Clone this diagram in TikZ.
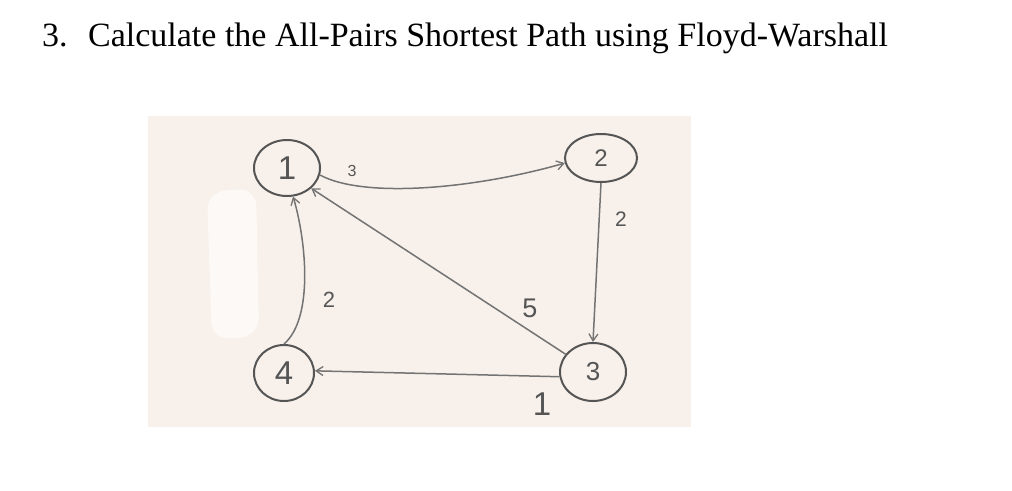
\documentclass[tikz,border=0pt]{standalone}
\usepackage{fontspec}
\setmainfont{Liberation Serif}
\newfontfamily\handfont{Liberation Sans}
\usetikzlibrary{shapes.geometric,arrows.meta}
\definecolor{photobg}{RGB}{248,241,235}
\definecolor{ink}{RGB}{85,85,85}
\definecolor{inkline}{RGB}{115,115,115}
\tikzset{
  vertex/.style={draw=ink, line width=2pt, ellipse, inner sep=0pt, text=ink, font=\handfont},
  edge/.style={draw=inkline, line width=1.5pt, -{Straight Barb[length=7pt,width=9pt,line width=1.3pt]}},
  wlabel/.style={text=ink, font=\handfont, inner sep=0pt}
}
\begin{document}
\begin{tikzpicture}[x=1pt,y=-1pt]
\useasboundingbox (0,0) rectangle (1012,490);
\fill[white] (0,0) rectangle (1012,490);
% title
\node[anchor=base west, inner sep=0pt, font=\fontsize{34}{40}\selectfont] (title) at (42,46)
  {3.\hspace{0.6em}Calculate the All-Pairs Shortest Path using Floyd-Warshall};
% photo background
\fill[photobg] (148,116) rectangle (691,427);
\fill[white!55!photobg, rounded corners=18pt] (207,192) -- (256,188) -- (259,336) -- (212,340) -- cycle;
% nodes
\node[vertex, minimum width=66pt, minimum height=56pt, font=\handfont\fontsize{33}{33}\selectfont] (n1) at (287,168) {1};
\node[vertex, minimum width=72pt, minimum height=48pt, font=\handfont\fontsize{24}{24}\selectfont] (n2) at (601,158) {2};
\node[vertex, minimum width=66pt, minimum height=58pt, font=\handfont\fontsize{26}{26}\selectfont] (n3) at (593,372) {3};
\node[vertex, minimum width=60pt, minimum height=56pt, font=\handfont\fontsize{33}{33}\selectfont] (n4) at (284,373) {4};
% edges
\draw[edge] (n1.-12) .. controls (362,198) and (470,190) .. (n2.188);
\draw[edge] (n2.south) -- (n3.north);
\draw[edge] (n3.147) -- (n1.-40);
\draw[edge] (n3.188) -- (n4.4);
\draw[edge] (n4.north) .. controls (314,318) and (306,240) .. (n1.-78);
% weights
\node[wlabel, font=\handfont\fontsize{16}{16}\selectfont] (w12) at (352,171) {3};
\node[wlabel, font=\handfont\fontsize{21}{21}\selectfont] (w23) at (621,219) {2};
\node[wlabel, font=\handfont\fontsize{27}{27}\selectfont] (w31) at (530,308) {5};
\node[wlabel, font=\handfont\fontsize{33}{33}\selectfont] (w34) at (542,404) {1};
\node[wlabel, font=\handfont\fontsize{22}{22}\selectfont] (w41) at (329,300) {2};
\end{tikzpicture}
\end{document}
